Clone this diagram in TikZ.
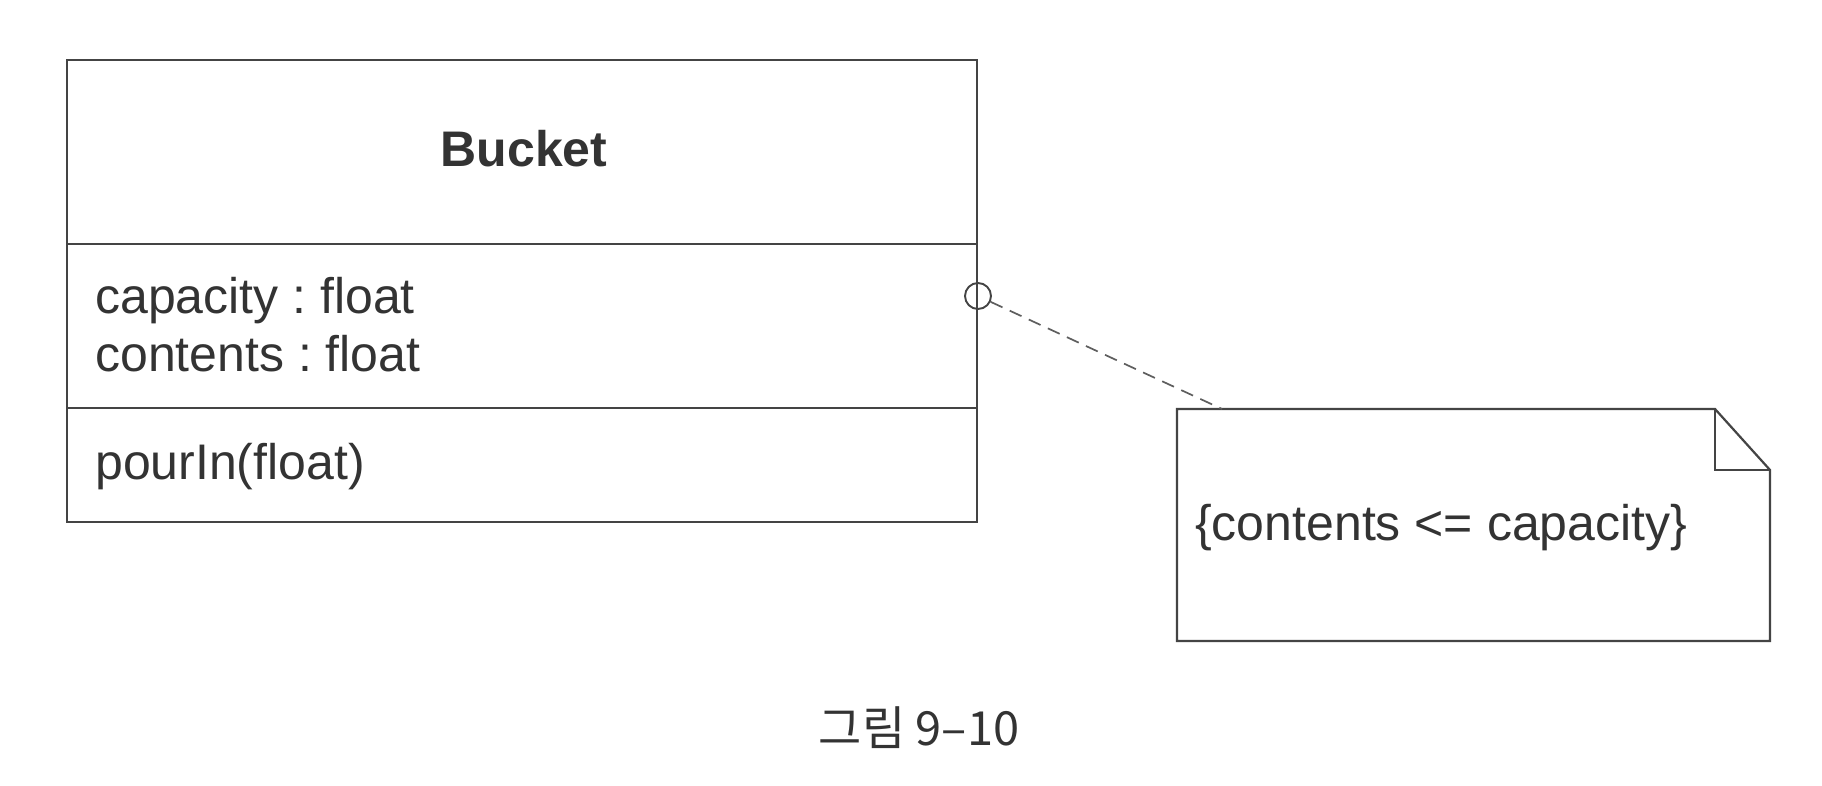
\documentclass[tikz,border=0pt]{standalone}
\usepackage{fontspec}
\setmainfont{Liberation Sans}
\newfontfamily\cjk{Noto Sans CJK KR}
\definecolor{ink}{HTML}{333333}
\definecolor{edge}{HTML}{444444}
\definecolor{dash}{HTML}{5E5E5E}
\frenchspacing
\begin{document}
\begin{tikzpicture}[x=1pt,y=-1pt,
  txt/.style={inner sep=0pt, text=ink, font=\fontsize{50}{60}\selectfont},
  boxline/.style={draw=edge, line width=2.2pt},
  dashline/.style={draw=dash, line width=1.7pt, dash pattern=on 13pt off 8pt}]
\useasboundingbox (0,0) rectangle (1822,786);
\fill[white] (0,0) rectangle (1822,786);
% class box
\node (cls) [boxline, rectangle, inner sep=0pt, minimum width=910pt, minimum height=462pt] at (522,291) {};
\coordinate (d1l) at (67,244); \coordinate (d1r) at (977,244);
\coordinate (d2l) at (67,408); \coordinate (d2r) at (977,408);
\draw[boxline] (d1l) -- (d1r);
\draw[boxline] (d2l) -- (d2r);
\node (name) [txt, anchor=base, font=\fontsize{50}{60}\selectfont\bfseries] at (524,167) {Bucket};
\node (a1) [txt, anchor=base west] at (95,313) {capacity : float};
\node (a2) [txt, anchor=base west] at (95,371) {contents : float};
\node (m1) [txt, anchor=base west] at (95,479) {pourIn(float)};
% note
\coordinate (n1) at (1177,409);
\coordinate (n2) at (1715,409);
\coordinate (n3) at (1770,470);
\coordinate (n4) at (1770,641);
\coordinate (n5) at (1177,641);
\coordinate (nf) at (1715,470);
\draw[boxline, line join=miter] (n1) -- (n2) -- (n3) -- (n4) -- (n5) -- cycle;
\draw[boxline] (n2) -- (nf) -- (n3);
\node (ntext) [txt, anchor=base west] at (1195,540) {\{contents <= capacity\}};
% anchor circle and connector
\node (circ) [circle, draw=edge, line width=1.9pt, minimum size=26pt, inner sep=0pt] at (978,296) {};
\coordinate (ntop) at (1222,409);
\draw[dashline] (circ) -- (ntop);
% caption
\node (cap) [inner sep=0pt, anchor=base, text=ink, font=\cjk\fontsize{47}{56}\selectfont] at (919,745) {그림 9–10};
\end{tikzpicture}
\end{document}
